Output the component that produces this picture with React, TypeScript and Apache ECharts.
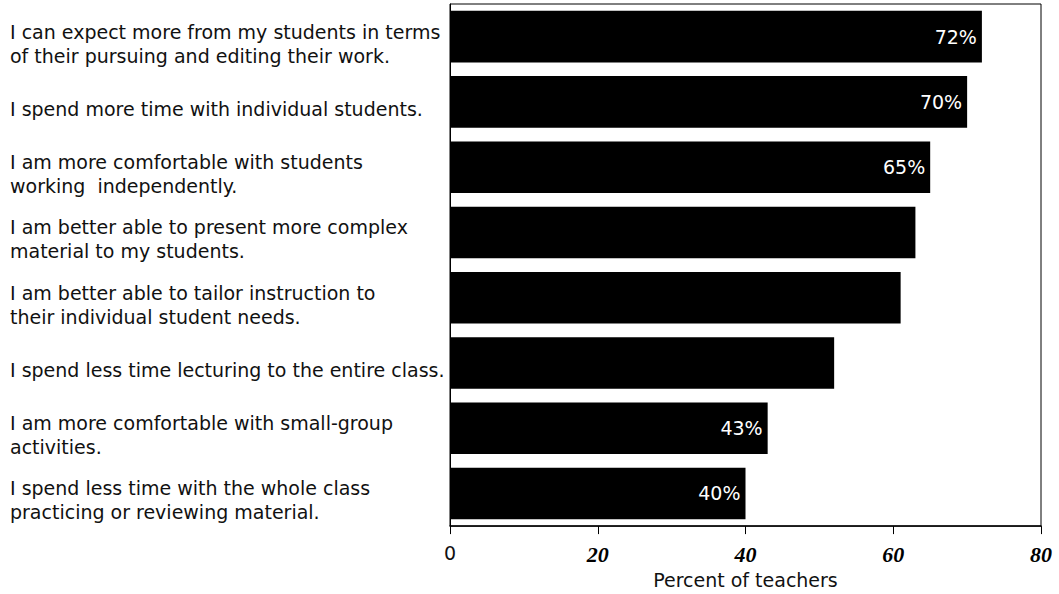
import React, { useEffect, useRef } from "react";
import * as echarts from "echarts";

const categories: string[] = [
  "I can expect more from my students in terms\nof their pursuing and editing their work.",
  "I spend more time with individual students.",
  "I am more comfortable with students\nworking  independently.",
  "I am better able to present more complex\nmaterial to my students.",
  "I am better able to tailor instruction to\ntheir individual student needs.",
  "I spend less time lecturing to the entire class.",
  "I am more comfortable with small-group\nactivities.",
  "I spend less time with the whole class\npracticing or reviewing material.",
];
const values: number[] = [72, 70, 65, 63, 61, 52, 43, 40];
const showValueLabel: boolean[] = [true, true, true, false, false, false, true, true];
const xTicks: number[] = [0, 20, 40, 60, 80];
const xAxisTitle = "Percent of teachers";

const SANS = "DejaVu Sans, Liberation Sans, Arial, sans-serif";

export default function App() {
  const ref = useRef<HTMLDivElement>(null);
  useEffect(() => {
    if (!ref.current) return;
    const chart = echarts.init(ref.current, null, { renderer: "svg" });
    chart.setOption({
      animation: false,
      backgroundColor: "#ffffff",
      grid: {
        left: 450,
        right: 18,
        top: 4,
        bottom: 55,
        show: true,
        borderColor: "#000",
        borderWidth: 1,
        containLabel: false,
      },
      xAxis: {
        type: "value",
        min: xTicks[0],
        max: xTicks[xTicks.length - 1],
        interval: 20,
        splitLine: { show: false },
        axisLine: { show: true, lineStyle: { color: "#000", width: 1.5 } },
        axisTick: { show: true, length: 8, lineStyle: { color: "#000" } },
        name: xAxisTitle,
        nameLocation: "middle",
        nameGap: 41,
        nameTextStyle: { fontFamily: SANS, fontSize: 19, color: "#111" },
        axisLabel: {
          margin: 17,
          formatter: (v: number) => (v === 0 ? "{a|" + v + "}" : "{b|" + v + "}"),
          rich: {
            a: { fontFamily: SANS, fontSize: 19, color: "#111" },
            b: {
              fontFamily: "Liberation Serif, Times New Roman, serif",
              fontSize: 22,
              fontWeight: "bold",
              fontStyle: "italic",
              color: "#000",
            },
          },
        },
      },
      yAxis: {
        type: "category",
        data: categories,
        inverse: true,
        axisLine: { show: true, lineStyle: { color: "#000" } },
        axisTick: { show: false },
        axisLabel: {
          interval: 0,
          hideOverlap: false,
          align: "left",
          margin: 440,
          formatter: (v: string) =>
            "{s| }\n" +
            v
              .split("\n")
              .map((line) => "{t|" + line + "}")
              .join("\n"),
          rich: {
            s: { fontSize: 4, lineHeight: 14, height: 14 },
            t: { fontFamily: SANS, fontSize: 19, lineHeight: 24, color: "#111", align: "left" },
          },
        },
      },
      series: [
        {
          type: "bar",
          barCategoryGap: "21%",
          itemStyle: { color: "#000" },
          data: values.map((v, i) => ({
            value: v,
            label: {
              show: showValueLabel[i],
              position: "insideRight",
              distance: 5,
              formatter: "{c}%",
              color: "#fff",
              fontFamily: SANS,
              fontSize: 19,
            },
          })),
        },
      ],
    });
    return () => chart.dispose();
  }, []);
  return (
    <div
      ref={ref}
      style={{ position: "absolute", left: 0, top: 0, width: 1059, height: 594 }}
    />
  );
}
